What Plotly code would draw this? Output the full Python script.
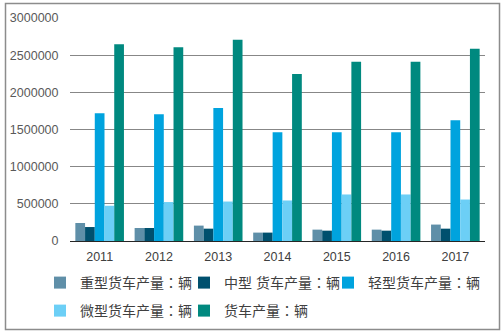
import plotly.graph_objects as go

years = ["2011", "2012", "2013", "2014", "2015", "2016", "2017"]
heavy = [242000, 175000, 207000, 113000, 153000, 153000, 221000]
medium = [188000, 175000, 166000, 113000, 139000, 139000, 166000]
light = [1720000, 1706000, 1790000, 1464000, 1464000, 1464000, 1626000]
micro = [474000, 524000, 531000, 545000, 626000, 626000, 558000]
total = [2647000, 2607000, 2707000, 2247000, 2410000, 2410000, 2585000]

names = ["重型货车产量：辆", "中型 货车产量：辆", "轻型货车产量：辆", "微型货车产量：辆", "货车产量：辆"]
colors = ["#5f8fa8", "#00506e", "#00a3de", "#6ccff6", "#00897f"]
series = [heavy, medium, light, micro, total]
legends = ["legend", "legend", "legend", "legend2", "legend2"]
lwidths = [99, 99, 118, 99, 118]

FONT = "Liberation Sans, Arial, Noto Sans CJK TC, sans-serif"

fig = go.Figure()
for name, color, vals, lg, lw in zip(names, colors, series, legends, lwidths):
    fig.add_trace(go.Bar(x=years, y=vals, name=name, marker_color=color,
                         marker_line_width=0, legend=lg, legendwidth=lw))

L, R, T, B = 70, 19, 18, 93
pw = 504 - L - R
ph = 334 - T - B

def px_x(p):
    return (p - L) / pw

def px_y(p):
    return (334 - B - p) / ph

fig.update_layout(
    width=504, height=334,
    margin=dict(l=L, r=R, t=T, b=B, autoexpand=False),
    paper_bgcolor="white", plot_bgcolor="white",
    barmode="group", bargap=0.18, bargroupgap=0,
    font=dict(family=FONT, color="#595959", size=12),
    xaxis=dict(showline=True, linecolor="#262626", linewidth=1, ticks="outside",
               ticklen=4, tickcolor="rgba(0,0,0,0)",
               tickfont=dict(size=12.5, color="#404040"), showgrid=False),
    yaxis=dict(range=[0, 3000000], tickvals=[0, 500000, 1000000, 1500000, 2000000, 2500000, 3000000],
               tickformat="d", gridcolor="#878787", gridwidth=1, zeroline=False,
               tickfont=dict(size=12.5, color="#595959"), ticklen=8, ticks="outside",
               tickcolor="rgba(0,0,0,0)"),
    legend=dict(orientation="h", x=px_x(40), xanchor="left", y=px_y(283), yanchor="middle",
                font=dict(size=14, color="#404040"), itemwidth=30,
                bgcolor="rgba(0,0,0,0)"),
    legend2=dict(orientation="h", x=px_x(40), xanchor="left", y=px_y(311), yanchor="middle",
                 font=dict(size=14, color="#404040"), itemwidth=30,
                 bgcolor="rgba(0,0,0,0)"),
    shapes=[dict(type="rect", xref="paper", yref="paper",
                 x0=px_x(5.5), x1=px_x(499.5), y0=px_y(329.5), y1=px_y(3.5),
                 line=dict(color="#8c8c8c", width=1.5), layer="below")],
)

fig.write_html("out.html")
